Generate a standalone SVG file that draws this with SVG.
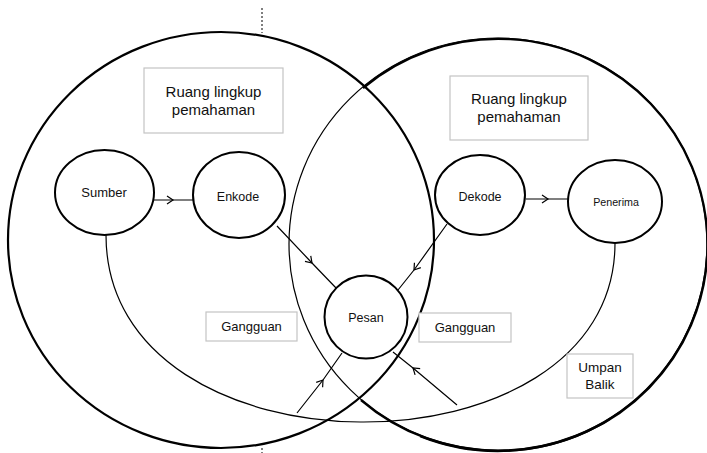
<svg xmlns="http://www.w3.org/2000/svg" width="707" height="453" viewBox="0 0 707 453">
<style>
.big{fill:none;stroke:#000}
.node{fill:#fff;stroke:#000;stroke-width:2}
.box{fill:#fff;stroke:#c4c4c4;stroke-width:1.2}
.t{font-family:"Liberation Sans",Arial,sans-serif;fill:#111;text-anchor:middle}
.c{fill:none;stroke:#000;stroke-width:1.2}
.dash{stroke:#555;stroke-width:1.5;stroke-dasharray:2,2}
</style>
<defs>
<marker id="chev" markerUnits="userSpaceOnUse" markerWidth="10" markerHeight="10" refX="6" refY="4" orient="auto" overflow="visible">
<path d="M0,0 L6,4 L0,8" fill="none" stroke="#000" stroke-width="1.2"/>
</marker>
</defs>
<rect width="707" height="453" fill="#fff"/>
<g id="scope-circles">
<line class="dash" x1="262" y1="8" x2="262" y2="33"/>
<line class="dash" x1="262" y1="448" x2="262" y2="453"/>
<ellipse class="big" cx="221" cy="240" rx="213" ry="208" stroke-width="2.2"/>
<ellipse class="big" cx="498" cy="244" rx="209" ry="206" stroke-width="1.2"/>
<path class="big" d="M363,88 A209,206 0 1,1 361,400" stroke-width="2.4"/>
<path class="big" d="M420,435 A209,206 0 0,0 610,418" transform="translate(0,1.6)" stroke-width="1.2"/>
</g>
<g id="connectors">
<path class="c" d="M154,200 L173,200 L193,200" marker-mid="url(#chev)"/>
<path class="c" d="M526,199 L548,199 L568,199" marker-mid="url(#chev)"/>
<path class="c" d="M277,226 L312,263 L337,289" marker-mid="url(#chev)"/>
<path class="c" d="M447,224 L414,270 L398,290" marker-mid="url(#chev)"/>
<path class="c" d="M297,413 L323,380 L342,353" marker-mid="url(#chev)"/>
<path class="c" d="M457,405 L413,368 L393,352" marker-mid="url(#chev)"/>
<path class="c" d="M106,235 C106,483 615,483 615,243"/>
</g>
<g id="ruang-kiri">
<rect class="box" x="144" y="68" width="139" height="65"/>
<text class="t" x="213.5" y="97" font-size="15">Ruang lingkup</text>
<text class="t" x="213.5" y="115" font-size="15">pemahaman</text>
</g>
<g id="ruang-kanan">
<rect class="box" x="450" y="76" width="138" height="64"/>
<text class="t" x="519" y="104" font-size="15">Ruang lingkup</text>
<text class="t" x="519" y="122" font-size="15">pemahaman</text>
</g>
<g id="sumber">
<ellipse class="node" cx="104.5" cy="192.5" rx="49.5" ry="42.5"/>
<text class="t" x="104" y="197" font-size="13">Sumber</text>
</g>
<g id="enkode">
<ellipse class="node" cx="239" cy="195" rx="46" ry="43"/>
<text class="t" x="238" y="201" font-size="12.5">Enkode</text>
</g>
<g id="dekode">
<ellipse class="node" cx="480" cy="195" rx="45" ry="40"/>
<text class="t" x="480" y="201" font-size="12.5">Dekode</text>
</g>
<g id="penerima">
<ellipse class="node" cx="615" cy="201.5" rx="47" ry="41.5"/>
<text class="t" x="616" y="206" font-size="10.7">Penerima</text>
</g>
<g id="pesan">
<circle class="node" cx="366" cy="317" r="41.5"/>
<text class="t" x="366" y="322" font-size="12.5">Pesan</text>
</g>
<g id="gangguan-kiri">
<rect class="box" x="206" y="312" width="91" height="29"/>
<text class="t" x="251.5" y="331" font-size="13">Gangguan</text>
</g>
<g id="gangguan-kanan">
<rect class="box" x="419" y="313" width="92" height="29"/>
<text class="t" x="465" y="332" font-size="13">Gangguan</text>
</g>
<g id="umpan-balik">
<rect class="box" x="567" y="354" width="66" height="44"/>
<text class="t" x="600" y="372" font-size="13.5">Umpan</text>
<text class="t" x="600" y="389" font-size="13.5">Balik</text>
</g>
</svg>
